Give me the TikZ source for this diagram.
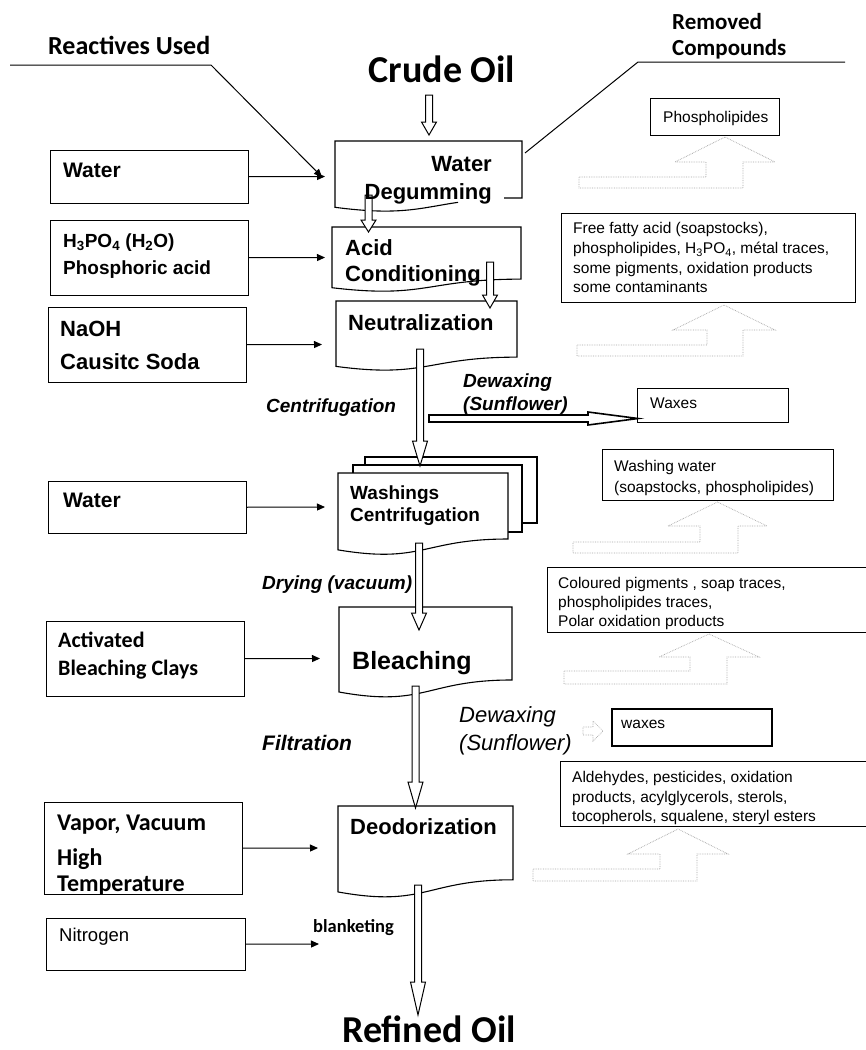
\documentclass[tikz,border=0pt]{standalone}
\usepackage{fontspec}
\setmainfont{Liberation Sans}
\newfontfamily\calib{Carlito}
\usetikzlibrary{arrows.meta}
\newcommand\fs[1]{\fontsize{#1}{#1}\selectfont}
% document shape: L, T, W, H
\newcommand\docshp[4]{\draw[pbox] (#1,#2) -- ({#1+#3},#2) -- ({#1+#3},{#2+0.802*#4}) .. controls ({#1+0.5*#3},{#2+0.802*#4}) and ({#1+0.5*#3},{#2+1.107*#4}) .. (#1,{#2+0.934*#4}) -- cycle;}
% vertical hollow arrow: x, ystart, yheadstart, ytip
\newcommand\vha[4]{\draw[hollow] ({#1-3.5},#2) -- ({#1-3.5},#3) -- ({#1-7.5},#3) -- (#1,#4) -- ({#1+7.5},#3) -- ({#1+3.5},#3) -- ({#1+3.5},#2) -- cycle;}
% bent up arrow (dotted)
\newcommand\bentup[9]{\draw[ghost] (#1,#8) -- (#2,#8) -- (#2,#7) -- (#4,#7) -- ({(#4+#5)/2},#6) -- (#5,#7) -- (#3,#7) -- (#3,#9) -- (#1,#9) -- cycle;}
\begin{document}
\begin{tikzpicture}[x=1pt,y=-1pt,
 txt/.style={inner sep=0pt, anchor=base west},
 lbox/.style={draw, line width=1.1pt, anchor=north west, inner sep=0pt},
 rbox/.style={draw, line width=1pt, anchor=north west, inner sep=0pt},
 pbox/.style={draw, line width=1.1pt, fill=white},
 hollow/.style={draw, line width=1pt, fill=white, line join=miter},
 ghost/.style={draw=black!35, densely dotted, line width=0.7pt},
 thinarr/.style={line width=1pt, -{Triangle[length=8pt,width=7pt]}},
 bi/.style={font=\bfseries\itshape\fs{19}},
]
\useasboundingbox[fill=white] (0,0) rectangle (866,1050);

% ---------- headers ----------
\node[txt] (reac) at (48,54.5) {\calib\bfseries\fs{26}Reactives Used};
\node[txt] (rem1) at (672,29.5) {\calib\bfseries\fs{23}Removed};
\node[txt] (rem2) at (672,55.5) {\calib\bfseries\fs{23}Compounds};
\coordinate (r0) at (10,65);
\coordinate (r1) at (211,65);
\coordinate (rtip) at (322,177);
\draw[thinarr] (r0) -- (r1) -- (rtip);
\coordinate (m0) at (845,62);
\coordinate (m1) at (638,62);
\coordinate (m2) at (525,153);
\draw[line width=1pt] (m0) -- (m1) -- (m2);

\node[inner sep=0pt, anchor=base] (crude) at (442,82) {\calib\bfseries\fs{38}Crude Oil};
\node[inner sep=0pt, anchor=base] (refined) at (429,1042) {\calib\bfseries\fs{38}Refined Oil};

% ---------- process boxes ----------
% Water degumming (bottom partly hidden)
\fill[white] (335,141) -- (522,141) -- (522,198) .. controls (428.5,198) and (428.5,219.6) .. (335,207.3) -- cycle;
\draw[line width=1.1pt] (458.04,202.33) .. controls (420.08,207.91) and (400.45,215.91) .. (335,207.3) -- (335,141) -- (522,141) -- (522,198) -- (504,198);
\docshp{332}{227}{189}{65}
\docshp{336}{301}{181}{70}
\draw[pbox] (365,457) rectangle (537,523);
\draw[pbox] (353,465) rectangle (522,532);
\docshp{338}{473}{170}{82.3}
\docshp{339}{607}{173}{91}
\docshp{338}{806}{175}{92}

% ---------- hollow arrows ----------
\vha{429}{95}{122}{135}
\vha{368.5}{195}{220}{232}
\vha{490}{262}{295}{308}
\vha{420}{349}{441}{466}
\vha{419}{543}{613}{630}
\vha{415.5}{686}{782}{808}
\vha{418}{885}{982}{1015}
\draw[hollow, line width=1.6pt] (429,415) -- (588,415) -- (588,412) -- (638,418.5) -- (588,425) -- (588,422) -- (429,422) -- cycle;

% ---------- process texts ----------
\node[inner sep=0pt, anchor=base east] (wd1) at (492,171) {\bfseries\fs{22}Water};
\node[inner sep=0pt, anchor=base east] (wd2) at (492,199) {\bfseries\fs{22}Degumming};
\node[txt] (ac1) at (345,255) {\bfseries\fs{22}Acid};
\node[txt] (ac2) at (345,281) {\bfseries\fs{22}Conditioning};
\node[txt] (neu) at (348,330) {\bfseries\fs{22}Neutralization};
\node[txt] (wa1) at (350,499) {\bfseries\fs{19}Washings};
\node[txt] (wa2) at (350,521) {\bfseries\fs{19}Centrifugation};
\node[txt] (ble) at (352,669) {\bfseries\fs{25}Bleaching};
\node[txt] (deo) at (350,834) {\bfseries\fs{22}Deodorization};

% ---------- step labels ----------
\node[txt, bi] (cen) at (266,412) {Centrifugation};
\node[txt, bi] (dw1) at (463,387) {Dewaxing};
\node[txt, bi] (dw2) at (463,410) {(Sunflower)};
\node[txt, bi] (dry) at (262,589) {Drying (vacuum)};
\node[txt, font=\bfseries\itshape\fs{21}] (fil) at (262,750.5) {Filtration};
\node[txt, font=\itshape\fs{22}] (dw3) at (459,722) {Dewaxing};
\node[txt, font=\itshape\fs{22}] (dw4) at (459,750) {(Sunflower)};
\node[txt] (blk) at (313,932) {\calib\bfseries\fs{18.5}blanketing};

% ---------- left boxes ----------
\node[lbox, minimum width=198pt, minimum height=53pt] (water1) at (50,150) {};
\node[txt] at (63,177.5) {\bfseries\fs{21}Water};
\node[lbox, minimum width=198pt, minimum height=75pt] (acid) at (50,220) {};
\node[txt] (acidt1) at (63,247) {\bfseries\fs{19}H\textsubscript{3}PO\textsubscript{4} (H\textsubscript{2}O)};
\node[txt] (acidt2) at (63,274) {\bfseries\fs{19}Phosphoric acid};
\node[lbox, minimum width=198pt, minimum height=75pt] (naoh) at (48,307) {};
\node[txt] (naoht1) at (60,336) {\bfseries\fs{22}NaOH};
\node[txt] (naoht2) at (60,369) {\bfseries\fs{22}Causitc Soda};
\node[lbox, minimum width=198pt, minimum height=52pt] (water2) at (48,481) {};
\node[txt] (water2t) at (63,507.5) {\bfseries\fs{21}Water};
\node[lbox, minimum width=198pt, minimum height=75pt] (clay) at (46,621) {};
\node[txt] (clayt1) at (58,647) {\calib\bfseries\fs{22}Activated};
\node[txt] (clayt2) at (58,675) {\calib\bfseries\fs{22}Bleaching Clays};
\node[lbox, minimum width=198pt, minimum height=92pt] (vapor) at (44,802) {};
\node[txt] (vapt1) at (57,830) {\calib\bfseries\fs{24}Vapor, Vacuum};
\node[txt] (vapt2) at (57,865) {\calib\bfseries\fs{24}High};
\node[txt] (vapt3) at (57,891) {\calib\bfseries\fs{24}Temperature};
\node[lbox, minimum width=199pt, minimum height=52pt] (nitro) at (46,918) {};
\node[txt] (nitrot) at (59,941.6) {\fs{18.5}Nitrogen};

\coordinate (t1) at (325,176.5);
\coordinate (t2) at (325,257.5);
\coordinate (t3) at (322,344.5);
\coordinate (t4) at (325,507);
\coordinate (t5) at (320,658.5);
\coordinate (t6) at (318,848);
\coordinate (t7) at (319,944);
\draw[thinarr] (water1) -- (t1);
\draw[thinarr] (acid) -- (t2);
\draw[thinarr] (naoh) -- (t3);
\draw[thinarr] (water2) -- (t4);
\draw[thinarr] (clay) -- (t5);
\draw[thinarr] (vapor) -- (t6);
\draw[thinarr] (nitro) -- (t7);

% ---------- right boxes ----------
\node[rbox, minimum width=129pt, minimum height=37pt] (phos) at (650,98) {};
\node[txt] (phost) at (663,122.5) {\fs{15.5}Phospholipides};
\node[rbox, minimum width=294pt, minimum height=89pt] (ffa) at (561,213) {};
\node[txt] (ffa1) at (573,233.5) {\fs{15.5}Free fatty acid (soapstocks),};
\node[txt] (ffa2) at (573,253.5) {\fs{15.5}phospholipides, H\textsubscript{3}PO\textsubscript{4}, métal traces,};
\node[txt] (ffa3) at (573,273.5) {\fs{15.5}some pigments, oxidation products};
\node[txt] (ffa4) at (573,292.5) {\fs{15.5}some contaminants};
\node[rbox, minimum width=151pt, minimum height=34pt] (waxA) at (637,388) {};
\node[txt] (waxAt) at (650,408.5) {\fs{15.5}Waxes};
\node[rbox, minimum width=231pt, minimum height=51pt] (wash) at (602,449) {};
\node[txt] (wash1) at (614,471.5) {\fs{15.5}Washing water};
\node[txt] (wash2) at (614,492.5) {\fs{15.5}(soapstocks, phospholipides)};
\node[rbox, minimum width=323pt, minimum height=65pt] (col) at (547,567) {};
\node[txt] (col1) at (558,588.5) {\fs{15.5}Coloured pigments , soap traces,};
\node[txt] (col2) at (558,607.5) {\fs{15.5}phospholipides traces,};
\node[txt] (col3) at (558,626.5) {\fs{15.5}Polar oxidation products};
\node[rbox, line width=2pt, minimum width=160pt, minimum height=37pt] (waxB) at (611,708) {};
\node[txt] (waxBt) at (621,728) {\fs{15.5}waxes};
\node[rbox, minimum width=310pt, minimum height=65pt] (ald) at (560,761) {};
\node[txt] (ald1) at (572,782.5) {\fs{15.5}Aldehydes, pesticides, oxidation};
\node[txt] (ald2) at (572,802.5) {\fs{15.5}products, acylglycerols, sterols,};
\node[txt] (ald3) at (572,821.5) {\fs{15.5}tocopherols, squalene, steryl esters};

% ---------- dotted arrows ----------
\bentup{579}{706}{743}{675}{775}{137}{162}{177}{188}
\bentup{577}{707}{743}{673}{775}{305}{330}{345}{356}
\bentup{573}{700}{738}{668}{767}{502}{526}{542}{553}
\bentup{564}{690}{727}{659}{759}{634}{657}{671}{684}
\bentup{533}{660}{697}{628}{728}{829}{854}{869}{881}
\draw[ghost] (583,727) -- (593,727) -- (593,721) -- (603,731) -- (593,741) -- (593,735) -- (583,735) -- cycle;
\end{tikzpicture}
\end{document}
